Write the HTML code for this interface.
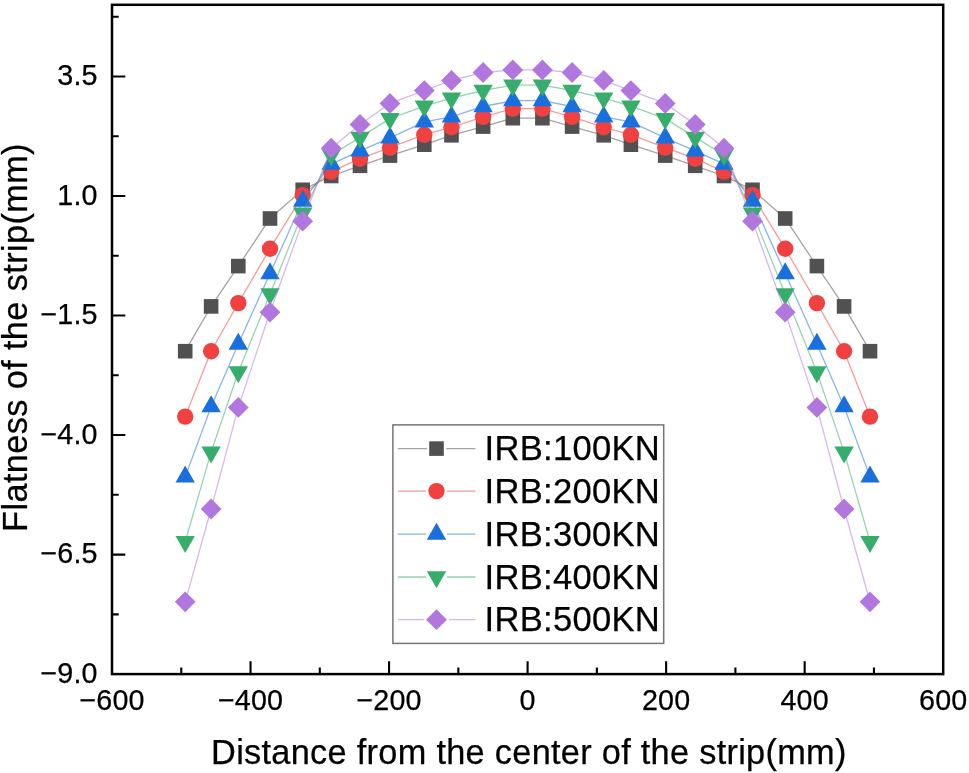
<!DOCTYPE html>
<html lang="en"><head><meta charset="utf-8"><title>Flatness of the strip</title>
<style>
html,body{margin:0;padding:0;background:#fff;}
body{width:969px;height:773px;overflow:hidden;}
svg{display:block;}
text{font-family:"Liberation Sans",Arial,Helvetica,sans-serif;fill:#000;stroke:#000;stroke-width:0.25px;}
.tick{font-size:28.7px;letter-spacing:0.15px;}
.title{font-size:34.3px;letter-spacing:0.3px;}
.ytitle{letter-spacing:0.38px;}
.leg{font-size:34.6px;letter-spacing:0.29px;}
</style></head><body>
<svg width="969" height="773" viewBox="0 0 969 773">
<rect width="969" height="773" fill="#fff"/>
<g><path d="M185.20,351.20 L211.10,306.40 L238.30,266.10 L270.00,218.50 L302.70,189.80 L331.20,176.00 L360.00,165.80 L390.00,155.60 L424.30,144.70 L451.50,135.30 L483.10,126.60 L512.80,118.20 L542.40,118.20 L572.10,126.60 L603.70,135.30 L630.90,144.70 L665.20,155.60 L695.20,165.80 L724.00,176.00 L752.50,189.80 L785.20,218.50 L816.90,266.10 L844.10,306.40 L870.00,351.20" fill="none" stroke="#515151" stroke-width="1.3" stroke-opacity="0.52"/>
<rect x="177.90" y="343.90" width="14.6" height="14.6" fill="#515151"/>
<rect x="203.80" y="299.10" width="14.6" height="14.6" fill="#515151"/>
<rect x="231.00" y="258.80" width="14.6" height="14.6" fill="#515151"/>
<rect x="262.70" y="211.20" width="14.6" height="14.6" fill="#515151"/>
<rect x="295.40" y="182.50" width="14.6" height="14.6" fill="#515151"/>
<rect x="323.90" y="168.70" width="14.6" height="14.6" fill="#515151"/>
<rect x="352.70" y="158.50" width="14.6" height="14.6" fill="#515151"/>
<rect x="382.70" y="148.30" width="14.6" height="14.6" fill="#515151"/>
<rect x="417.00" y="137.40" width="14.6" height="14.6" fill="#515151"/>
<rect x="444.20" y="128.00" width="14.6" height="14.6" fill="#515151"/>
<rect x="475.80" y="119.30" width="14.6" height="14.6" fill="#515151"/>
<rect x="505.50" y="110.90" width="14.6" height="14.6" fill="#515151"/>
<rect x="535.10" y="110.90" width="14.6" height="14.6" fill="#515151"/>
<rect x="564.80" y="119.30" width="14.6" height="14.6" fill="#515151"/>
<rect x="596.40" y="128.00" width="14.6" height="14.6" fill="#515151"/>
<rect x="623.60" y="137.40" width="14.6" height="14.6" fill="#515151"/>
<rect x="657.90" y="148.30" width="14.6" height="14.6" fill="#515151"/>
<rect x="687.90" y="158.50" width="14.6" height="14.6" fill="#515151"/>
<rect x="716.70" y="168.70" width="14.6" height="14.6" fill="#515151"/>
<rect x="745.20" y="182.50" width="14.6" height="14.6" fill="#515151"/>
<rect x="777.90" y="211.20" width="14.6" height="14.6" fill="#515151"/>
<rect x="809.60" y="258.80" width="14.6" height="14.6" fill="#515151"/>
<rect x="836.80" y="299.10" width="14.6" height="14.6" fill="#515151"/>
<rect x="862.70" y="343.90" width="14.6" height="14.6" fill="#515151"/>
</g>
<g><path d="M185.20,416.60 L211.10,351.20 L238.30,303.10 L270.00,248.70 L302.70,195.10 L331.20,171.60 L360.00,158.70 L390.00,147.60 L424.30,134.70 L451.50,127.30 L483.10,116.90 L512.80,108.60 L542.40,108.60 L572.10,116.90 L603.70,127.30 L630.90,134.70 L665.20,147.60 L695.20,158.70 L724.00,171.60 L752.50,195.10 L785.20,248.70 L816.90,303.10 L844.10,351.20 L870.00,416.60" fill="none" stroke="#F14040" stroke-width="1.3" stroke-opacity="0.52"/>
<circle cx="185.20" cy="416.60" r="8.2" fill="#F14040"/>
<circle cx="211.10" cy="351.20" r="8.2" fill="#F14040"/>
<circle cx="238.30" cy="303.10" r="8.2" fill="#F14040"/>
<circle cx="270.00" cy="248.70" r="8.2" fill="#F14040"/>
<circle cx="302.70" cy="195.10" r="8.2" fill="#F14040"/>
<circle cx="331.20" cy="171.60" r="8.2" fill="#F14040"/>
<circle cx="360.00" cy="158.70" r="8.2" fill="#F14040"/>
<circle cx="390.00" cy="147.60" r="8.2" fill="#F14040"/>
<circle cx="424.30" cy="134.70" r="8.2" fill="#F14040"/>
<circle cx="451.50" cy="127.30" r="8.2" fill="#F14040"/>
<circle cx="483.10" cy="116.90" r="8.2" fill="#F14040"/>
<circle cx="512.80" cy="108.60" r="8.2" fill="#F14040"/>
<circle cx="542.40" cy="108.60" r="8.2" fill="#F14040"/>
<circle cx="572.10" cy="116.90" r="8.2" fill="#F14040"/>
<circle cx="603.70" cy="127.30" r="8.2" fill="#F14040"/>
<circle cx="630.90" cy="134.70" r="8.2" fill="#F14040"/>
<circle cx="665.20" cy="147.60" r="8.2" fill="#F14040"/>
<circle cx="695.20" cy="158.70" r="8.2" fill="#F14040"/>
<circle cx="724.00" cy="171.60" r="8.2" fill="#F14040"/>
<circle cx="752.50" cy="195.10" r="8.2" fill="#F14040"/>
<circle cx="785.20" cy="248.70" r="8.2" fill="#F14040"/>
<circle cx="816.90" cy="303.10" r="8.2" fill="#F14040"/>
<circle cx="844.10" cy="351.20" r="8.2" fill="#F14040"/>
<circle cx="870.00" cy="416.60" r="8.2" fill="#F14040"/>
</g>
<g><path d="M185.20,476.90 L211.10,406.70 L238.30,344.00 L270.00,273.50 L302.70,201.00 L331.20,164.10 L360.00,150.80 L390.00,137.90 L424.30,121.80 L451.50,116.90 L483.10,106.50 L512.80,100.70 L542.40,100.70 L572.10,106.50 L603.70,116.90 L630.90,121.80 L665.20,137.90 L695.20,150.80 L724.00,164.10 L752.50,201.00 L785.20,273.50 L816.90,344.00 L844.10,406.70 L870.00,476.90" fill="none" stroke="#1A6FDF" stroke-width="1.3" stroke-opacity="0.52"/>
<polygon points="175.50,482.57 194.90,482.57 185.20,465.57" fill="#1A6FDF"/>
<polygon points="201.40,412.37 220.80,412.37 211.10,395.37" fill="#1A6FDF"/>
<polygon points="228.60,349.67 248.00,349.67 238.30,332.67" fill="#1A6FDF"/>
<polygon points="260.30,279.17 279.70,279.17 270.00,262.17" fill="#1A6FDF"/>
<polygon points="293.00,206.67 312.40,206.67 302.70,189.67" fill="#1A6FDF"/>
<polygon points="321.50,169.77 340.90,169.77 331.20,152.77" fill="#1A6FDF"/>
<polygon points="350.30,156.47 369.70,156.47 360.00,139.47" fill="#1A6FDF"/>
<polygon points="380.30,143.57 399.70,143.57 390.00,126.57" fill="#1A6FDF"/>
<polygon points="414.60,127.47 434.00,127.47 424.30,110.47" fill="#1A6FDF"/>
<polygon points="441.80,122.57 461.20,122.57 451.50,105.57" fill="#1A6FDF"/>
<polygon points="473.40,112.17 492.80,112.17 483.10,95.17" fill="#1A6FDF"/>
<polygon points="503.10,106.37 522.50,106.37 512.80,89.37" fill="#1A6FDF"/>
<polygon points="532.70,106.37 552.10,106.37 542.40,89.37" fill="#1A6FDF"/>
<polygon points="562.40,112.17 581.80,112.17 572.10,95.17" fill="#1A6FDF"/>
<polygon points="594.00,122.57 613.40,122.57 603.70,105.57" fill="#1A6FDF"/>
<polygon points="621.20,127.47 640.60,127.47 630.90,110.47" fill="#1A6FDF"/>
<polygon points="655.50,143.57 674.90,143.57 665.20,126.57" fill="#1A6FDF"/>
<polygon points="685.50,156.47 704.90,156.47 695.20,139.47" fill="#1A6FDF"/>
<polygon points="714.30,169.77 733.70,169.77 724.00,152.77" fill="#1A6FDF"/>
<polygon points="742.80,206.67 762.20,206.67 752.50,189.67" fill="#1A6FDF"/>
<polygon points="775.50,279.17 794.90,279.17 785.20,262.17" fill="#1A6FDF"/>
<polygon points="807.20,349.67 826.60,349.67 816.90,332.67" fill="#1A6FDF"/>
<polygon points="834.40,412.37 853.80,412.37 844.10,395.37" fill="#1A6FDF"/>
<polygon points="860.30,482.57 879.70,482.57 870.00,465.57" fill="#1A6FDF"/>
</g>
<g><path d="M185.20,541.70 L211.10,452.10 L238.30,372.00 L270.00,294.00 L302.70,213.10 L331.20,155.00 L360.00,137.40 L390.00,118.60 L424.30,106.10 L451.50,98.20 L483.10,90.50 L512.80,85.20 L542.40,85.20 L572.10,90.50 L603.70,98.20 L630.90,106.10 L665.20,118.60 L695.20,137.40 L724.00,155.00 L752.50,213.10 L785.20,294.00 L816.90,372.00 L844.10,452.10 L870.00,541.70" fill="none" stroke="#37AD6B" stroke-width="1.3" stroke-opacity="0.52"/>
<polygon points="175.50,536.03 194.90,536.03 185.20,553.03" fill="#37AD6B"/>
<polygon points="201.40,446.43 220.80,446.43 211.10,463.43" fill="#37AD6B"/>
<polygon points="228.60,366.33 248.00,366.33 238.30,383.33" fill="#37AD6B"/>
<polygon points="260.30,288.33 279.70,288.33 270.00,305.33" fill="#37AD6B"/>
<polygon points="293.00,207.43 312.40,207.43 302.70,224.43" fill="#37AD6B"/>
<polygon points="321.50,149.33 340.90,149.33 331.20,166.33" fill="#37AD6B"/>
<polygon points="350.30,131.73 369.70,131.73 360.00,148.73" fill="#37AD6B"/>
<polygon points="380.30,112.93 399.70,112.93 390.00,129.93" fill="#37AD6B"/>
<polygon points="414.60,100.43 434.00,100.43 424.30,117.43" fill="#37AD6B"/>
<polygon points="441.80,92.53 461.20,92.53 451.50,109.53" fill="#37AD6B"/>
<polygon points="473.40,84.83 492.80,84.83 483.10,101.83" fill="#37AD6B"/>
<polygon points="503.10,79.53 522.50,79.53 512.80,96.53" fill="#37AD6B"/>
<polygon points="532.70,79.53 552.10,79.53 542.40,96.53" fill="#37AD6B"/>
<polygon points="562.40,84.83 581.80,84.83 572.10,101.83" fill="#37AD6B"/>
<polygon points="594.00,92.53 613.40,92.53 603.70,109.53" fill="#37AD6B"/>
<polygon points="621.20,100.43 640.60,100.43 630.90,117.43" fill="#37AD6B"/>
<polygon points="655.50,112.93 674.90,112.93 665.20,129.93" fill="#37AD6B"/>
<polygon points="685.50,131.73 704.90,131.73 695.20,148.73" fill="#37AD6B"/>
<polygon points="714.30,149.33 733.70,149.33 724.00,166.33" fill="#37AD6B"/>
<polygon points="742.80,207.43 762.20,207.43 752.50,224.43" fill="#37AD6B"/>
<polygon points="775.50,288.33 794.90,288.33 785.20,305.33" fill="#37AD6B"/>
<polygon points="807.20,366.33 826.60,366.33 816.90,383.33" fill="#37AD6B"/>
<polygon points="834.40,446.43 853.80,446.43 844.10,463.43" fill="#37AD6B"/>
<polygon points="860.30,536.03 879.70,536.03 870.00,553.03" fill="#37AD6B"/>
</g>
<g><path d="M185.20,601.80 L211.10,509.00 L238.30,407.40 L270.00,312.20 L302.70,221.20 L331.20,148.20 L360.00,124.50 L390.00,103.40 L424.30,90.60 L451.50,80.40 L483.10,72.50 L512.80,69.90 L542.40,69.90 L572.10,72.50 L603.70,80.40 L630.90,90.60 L665.20,103.40 L695.20,124.50 L724.00,148.20 L752.50,221.20 L785.20,312.20 L816.90,407.40 L844.10,509.00 L870.00,601.80" fill="none" stroke="#B177DE" stroke-width="1.3" stroke-opacity="0.52"/>
<polygon points="174.80,601.80 185.20,591.40 195.60,601.80 185.20,612.20" fill="#B177DE"/>
<polygon points="200.70,509.00 211.10,498.60 221.50,509.00 211.10,519.40" fill="#B177DE"/>
<polygon points="227.90,407.40 238.30,397.00 248.70,407.40 238.30,417.80" fill="#B177DE"/>
<polygon points="259.60,312.20 270.00,301.80 280.40,312.20 270.00,322.60" fill="#B177DE"/>
<polygon points="292.30,221.20 302.70,210.80 313.10,221.20 302.70,231.60" fill="#B177DE"/>
<polygon points="320.80,148.20 331.20,137.80 341.60,148.20 331.20,158.60" fill="#B177DE"/>
<polygon points="349.60,124.50 360.00,114.10 370.40,124.50 360.00,134.90" fill="#B177DE"/>
<polygon points="379.60,103.40 390.00,93.00 400.40,103.40 390.00,113.80" fill="#B177DE"/>
<polygon points="413.90,90.60 424.30,80.20 434.70,90.60 424.30,101.00" fill="#B177DE"/>
<polygon points="441.10,80.40 451.50,70.00 461.90,80.40 451.50,90.80" fill="#B177DE"/>
<polygon points="472.70,72.50 483.10,62.10 493.50,72.50 483.10,82.90" fill="#B177DE"/>
<polygon points="502.40,69.90 512.80,59.50 523.20,69.90 512.80,80.30" fill="#B177DE"/>
<polygon points="532.00,69.90 542.40,59.50 552.80,69.90 542.40,80.30" fill="#B177DE"/>
<polygon points="561.70,72.50 572.10,62.10 582.50,72.50 572.10,82.90" fill="#B177DE"/>
<polygon points="593.30,80.40 603.70,70.00 614.10,80.40 603.70,90.80" fill="#B177DE"/>
<polygon points="620.50,90.60 630.90,80.20 641.30,90.60 630.90,101.00" fill="#B177DE"/>
<polygon points="654.80,103.40 665.20,93.00 675.60,103.40 665.20,113.80" fill="#B177DE"/>
<polygon points="684.80,124.50 695.20,114.10 705.60,124.50 695.20,134.90" fill="#B177DE"/>
<polygon points="713.60,148.20 724.00,137.80 734.40,148.20 724.00,158.60" fill="#B177DE"/>
<polygon points="742.10,221.20 752.50,210.80 762.90,221.20 752.50,231.60" fill="#B177DE"/>
<polygon points="774.80,312.20 785.20,301.80 795.60,312.20 785.20,322.60" fill="#B177DE"/>
<polygon points="806.50,407.40 816.90,397.00 827.30,407.40 816.90,417.80" fill="#B177DE"/>
<polygon points="833.70,509.00 844.10,498.60 854.50,509.00 844.10,519.40" fill="#B177DE"/>
<polygon points="859.60,601.80 870.00,591.40 880.40,601.80 870.00,612.20" fill="#B177DE"/>
</g>
<rect x="112.0" y="4.8" width="831.20" height="669.30" fill="none" stroke="#000" stroke-width="2.5"/>
<path d="M181.27,674.1 v-6.5 M250.53,674.1 v-12.9 M319.80,674.1 v-6.5 M389.07,674.1 v-12.9 M458.33,674.1 v-6.5 M527.60,674.1 v-12.9 M596.87,674.1 v-6.5 M666.13,674.1 v-12.9 M735.40,674.1 v-6.5 M804.67,674.1 v-12.9 M873.93,674.1 v-6.5 M112.0,614.34 h6.7 M112.0,554.58 h13.3 M112.0,494.82 h6.7 M112.0,435.06 h13.3 M112.0,375.31 h6.7 M112.0,315.55 h13.3 M112.0,255.79 h6.7 M112.0,196.03 h13.3 M112.0,136.27 h6.7 M112.0,76.51 h13.3 M112.0,16.75 h6.7" stroke="#000" stroke-width="2.1" fill="none"/>
<text class="tick" x="112.00" y="710.3" text-anchor="middle">−600</text>
<text class="tick" x="250.53" y="710.3" text-anchor="middle">−400</text>
<text class="tick" x="389.07" y="710.3" text-anchor="middle">−200</text>
<text class="tick" x="527.60" y="710.3" text-anchor="middle">0</text>
<text class="tick" x="666.13" y="710.3" text-anchor="middle">200</text>
<text class="tick" x="804.67" y="710.3" text-anchor="middle">400</text>
<text class="tick" x="943.20" y="710.3" text-anchor="middle">600</text>
<text class="tick" x="97.7" y="682.70" text-anchor="end">−9.0</text>
<text class="tick" x="97.7" y="563.18" text-anchor="end">−6.5</text>
<text class="tick" x="97.7" y="443.66" text-anchor="end">−4.0</text>
<text class="tick" x="97.7" y="324.15" text-anchor="end">−1.5</text>
<text class="tick" x="97.7" y="204.63" text-anchor="end">1.0</text>
<text class="tick" x="97.7" y="85.11" text-anchor="end">3.5</text>
<text class="title" x="528.9" y="764.1" text-anchor="middle">Distance from the center of the strip(mm)</text>
<text class="title ytitle" transform="translate(27.2,337.5) rotate(-90)" text-anchor="middle">Flatness of the strip(mm)</text>
<rect x="392.9" y="424.9" width="270.8" height="218.5" fill="#fff" stroke="#757575" stroke-width="1.5"/>
<path d="M397.8,448.6 H426.9 M446.1,448.6 H475.5" stroke="#515151" stroke-width="1.3" stroke-opacity="0.52" fill="none"/>
<rect x="429.20" y="441.30" width="14.6" height="14.6" fill="#515151"/>
<text class="leg" x="484.5" y="459.7">IRB:100KN</text>
<path d="M397.8,491.1 H426.0 M447.0,491.1 H475.5" stroke="#F14040" stroke-width="1.3" stroke-opacity="0.52" fill="none"/>
<circle cx="436.50" cy="491.10" r="8.2" fill="#F14040"/>
<text class="leg" x="484.5" y="503.0">IRB:200KN</text>
<path d="M397.8,534.2 H426.2 M446.8,534.2 H475.5" stroke="#1A6FDF" stroke-width="1.3" stroke-opacity="0.52" fill="none"/>
<polygon points="426.80,539.87 446.20,539.87 436.50,522.87" fill="#1A6FDF"/>
<text class="leg" x="484.5" y="545.9">IRB:300KN</text>
<path d="M397.8,577.0 H426.2 M446.8,577.0 H475.5" stroke="#37AD6B" stroke-width="1.3" stroke-opacity="0.52" fill="none"/>
<polygon points="426.80,571.33 446.20,571.33 436.50,588.33" fill="#37AD6B"/>
<text class="leg" x="484.5" y="588.5">IRB:400KN</text>
<path d="M397.8,619.7 H423.8 M449.2,619.7 H475.5" stroke="#B177DE" stroke-width="1.3" stroke-opacity="0.52" fill="none"/>
<polygon points="426.10,619.70 436.50,609.30 446.90,619.70 436.50,630.10" fill="#B177DE"/>
<text class="leg" x="484.5" y="631.0">IRB:500KN</text>
</svg></body></html>
